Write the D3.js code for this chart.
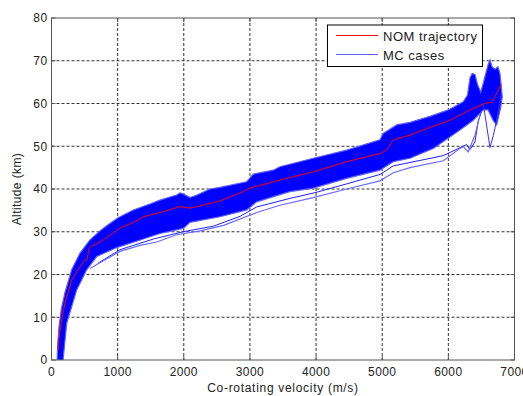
<!DOCTYPE html>
<html>
<head>
<meta charset="utf-8">
<script src="https://cdn.jsdelivr.net/npm/d3@7"></script>
<style>
  body { margin: 0; background: #fff; }
  text { font-family: "Liberation Sans", Arial, sans-serif; fill: #222; }
</style>
</head>
<body>
<figure id="chart" style="margin:0"></figure>
<script>
// [velocity m/s, altitude km]
const xTicks = [0, 1000, 2000, 3000, 4000, 5000, 6000, 7000];
const yTicks = [0, 10, 20, 30, 40, 50, 60, 70, 80];
const legendLabels = ["NOM trajectory", "MC cases"];

const nomTrajectory = [[100,2.5],[103,3.9],[154,9.4],[204,13.3],[305,18.7],[431,21.8],[481,23],[540,23.6],
  [565,26],[600,26.5],[783,28.1],[1035,30.8],[1237,32.2],[1388,33.5],[1690,34.7],[1943,35.9],[2094,35.5],
  [2547,37.2],[2899,39.4],[3001,40.2],[3454,42.1],[3958,44],[4463,46.4],[4966,48.3],[5067,49.1],[5167,51.5],
  [5420,52.6],[5720,54.4],[6024,56.1],[6327,58.5],[6553,60],[6654,60.3],[6700,61.5],[6800,64.5]];

// upper and lower edge of the dense MC band
const mcUpper = [[85,0],[95,4],[115,8],[150,12],[204,15.8],[305,21.1],[431,25],[582,28.1],[733,30.2],[834,31.4],
  [1000,33.2],[1237,35.1],[1489,36.5],[1640,37.4],[1892,38.6],[1943,39.1],[2000,38.8],[2094,38],[2200,38.6],
  [2396,40],[2547,40.4],[2951,41.7],[3051,43.5],[3353,44.4],[3454,45.2],[3958,47.2],[4463,49.1],[4966,51.5],
  [5016,53],[5218,55],[5420,55.6],[5722,57],[6000,58.5],[6225,60.4],[6290,62],[6327,66],[6360,67],[6402,66.8],
  [6440,64.5],[6490,62.6],[6540,65.5],[6600,69],[6629,70.2],[6660,68.6],[6705,68],[6750,68.6],[6780,67],
  [6800,64],[6815,61.5]];
const mcLower = [[175,0],[230,8.6],[381,16.4],[532,21.1],[683,24.2],[986,26.3],[1388,28.3],[1640,29.6],
  [1993,30.8],[2094,32.2],[2547,33.5],[2951,35.1],[3102,37],[3454,38.7],[3605,39.4],[3958,40.2],[4463,42.5],
  [4966,44.4],[5167,46.4],[5420,47.2],[5772,49.5],[6175,53.8],[6377,56.1],[6528,58.5],[6600,58.5],[6679,56],
  [6730,55],[6790,59],[6815,61.5]];

// single MC cases that stray below the band
const mcLow1 = [[582,21.4],[783,23.2],[1035,25.4],[1338,26.8],[1590,27.6],[1892,29.3],[2245,30.2],[2600,31.5],
  [3102,34.5],[3454,36.2],[3958,38],[4463,40],[4966,41.9],[5167,43.8],[5420,45],[5923,46.6],[6175,49.5],
  [6225,49.9],[6301,48.7],[6402,52.6],[6478,57.3]];
const mcLow2 = [[700,22.6],[1035,25.8],[1540,28.3],[1990,30],[2446,31.3],[2850,33.6],[3102,35.8],[3605,37.8],
  [4000,39.2],[4463,41.2],[4966,43.4],[5167,45.4],[5923,47.8],[6276,50.4],[6327,49.2],[6402,51],[6453,56],[6500,58]];
const mcDip = [[6480,59.5],[6528,60],[6629,49.7],[6680,52.5],[6730,56.1],[6800,62.5]];

const W = 523, H = 396;
const margin = {top: 18, right: 8.5, bottom: 36, left: 51.5};
const width = W - margin.left - margin.right;
const height = H - margin.top - margin.bottom;

const svg = d3.select("figure#chart").append("svg")
  .attr("width", W).attr("height", H);

const g = svg.append("g")
  .attr("transform", "translate(" + margin.left + "," + margin.top + ")");

const x = d3.scaleLinear().domain([0, 7000]).range([0, width]);
const y = d3.scaleLinear().domain([0, 80]).range([height, 0]);

svg.append("defs").append("clipPath").attr("id", "plot")
  .append("rect").attr("width", width).attr("height", height);

// grid
g.append("g").selectAll("line").data(yTicks.slice(1, -1)).enter().append("line")
  .attr("x1", 0).attr("x2", width)
  .attr("y1", d => y(d)).attr("y2", d => y(d))
  .attr("stroke", "#333").attr("stroke-width", 1).attr("stroke-dasharray", "3,2");
g.append("g").selectAll("line").data(xTicks.slice(1, -1)).enter().append("line")
  .attr("x1", d => x(d)).attr("x2", d => x(d))
  .attr("y1", 0).attr("y2", height)
  .attr("stroke", "#333").attr("stroke-width", 1).attr("stroke-dasharray", "3,2");

const line = d3.line().x(d => x(d[0])).y(d => y(d[1]));
const plot = g.append("g").attr("clip-path", "url(#plot)");

// MC band
plot.append("path")
  .attr("d", line(mcUpper.concat(mcLower.slice().reverse())) + "Z")
  .attr("fill", "#0000ff")
  .attr("stroke", "#5c5cff").attr("stroke-width", 1.2);

plot.append("path").attr("d", line(mcLow2))
  .attr("fill", "none").attr("stroke", "#2020ff").attr("stroke-width", 1);
plot.append("path").attr("d", line(mcLow1))
  .attr("fill", "none").attr("stroke", "#6a6aff").attr("stroke-width", 1.2);
plot.append("path").attr("d", line(mcDip))
  .attr("fill", "none").attr("stroke", "#3030ff").attr("stroke-width", 1);

// nominal
plot.append("path").attr("d", line(nomTrajectory))
  .attr("fill", "none").attr("stroke", "#ff0000").attr("stroke-width", 1);

// axes box and ticks
const axisColor = "#555";
g.append("rect").attr("width", width).attr("height", height)
  .attr("fill", "none").attr("stroke", axisColor).attr("stroke-width", 1);

const tl = 4;
const ticks = g.append("g").attr("stroke", axisColor).attr("stroke-width", 1);
xTicks.forEach(t => {
  ticks.append("line").attr("x1", x(t)).attr("x2", x(t)).attr("y1", height).attr("y2", height - tl);
  ticks.append("line").attr("x1", x(t)).attr("x2", x(t)).attr("y1", 0).attr("y2", tl);
});
yTicks.forEach(t => {
  ticks.append("line").attr("x1", 0).attr("x2", tl).attr("y1", y(t)).attr("y2", y(t));
  ticks.append("line").attr("x1", width).attr("x2", width - tl).attr("y1", y(t)).attr("y2", y(t));
});

// tick labels
g.append("g").selectAll("text").data(xTicks).enter().append("text")
  .attr("x", d => x(d)).attr("y", height + 16)
  .attr("text-anchor", "middle")
  .style("font-size", "12px").style("letter-spacing", "0.4px")
  .text(d => d);
g.append("g").selectAll("text").data(yTicks).enter().append("text")
  .attr("x", -4).attr("y", d => y(d)).attr("dy", "0.36em")
  .attr("text-anchor", "end")
  .style("font-size", "12px").style("letter-spacing", "0.4px")
  .text(d => d);

// axis titles
svg.append("text")
  .attr("x", margin.left + width / 2).attr("y", 392)
  .attr("text-anchor", "middle")
  .style("font-size", "12px").style("letter-spacing", "0.7px")
  .text("Co-rotating velocity (m/s)");
svg.append("text")
  .attr("transform", "translate(21," + (margin.top + height / 2) + ")rotate(-90)")
  .attr("text-anchor", "middle")
  .style("font-size", "12px").style("letter-spacing", "0.4px")
  .text("Altitude (km)");

// legend
const legend = svg.append("g");
legend.append("rect")
  .attr("x", 327.5).attr("y", 25).attr("width", 155).attr("height", 41.5)
  .attr("fill", "#fff").attr("stroke", "#000").attr("stroke-width", 1);
const legendColors = ["#ff0000", "#5c5cff"];
legendLabels.forEach((lab, i) => {
  const ly = 35.5 + i * 19;
  legend.append("line").attr("x1", 336).attr("x2", 378).attr("y1", ly).attr("y2", ly)
    .attr("stroke", legendColors[i]).attr("stroke-width", 1);
  legend.append("text").attr("x", 383).attr("y", ly + 5)
    .style("font-size", "13px").style("letter-spacing", "0.5px")
    .text(lab);
});
</script>
</body>
</html>
